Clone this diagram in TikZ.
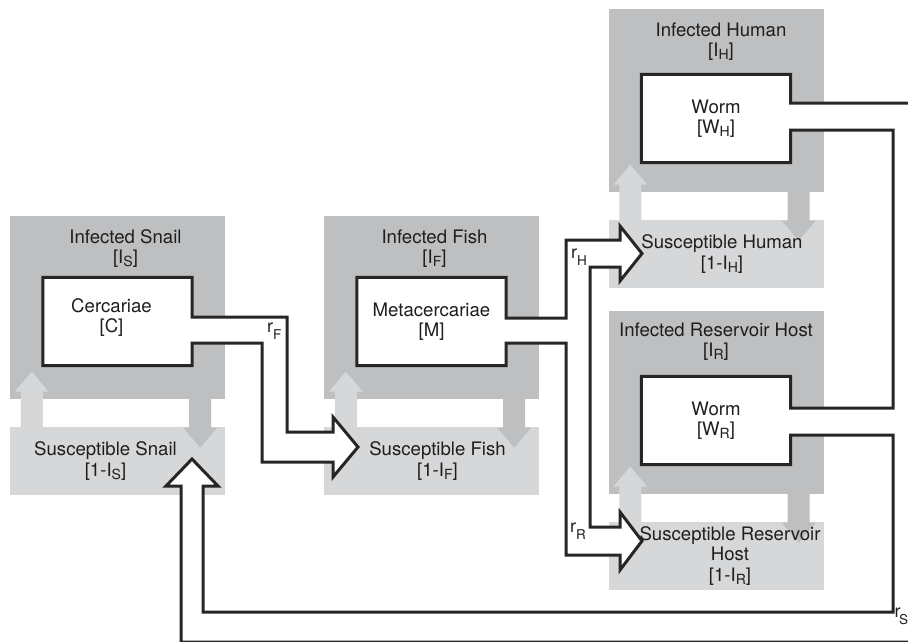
\documentclass[tikz,border=0pt]{standalone}
\usepackage{fontspec}
\setmainfont{TeX Gyre Heros}
\usetikzlibrary{positioning, calc}
\definecolor{infgray}{RGB}{190,191,193}
\definecolor{susgray}{RGB}{214,215,217}
\definecolor{pipeink}{RGB}{38,38,38}
\definecolor{txtink}{RGB}{30,30,30}
\newcommand\boxfont{\fontsize{18.6}{20.5}\selectfont}
\newcommand\ratefont{\fontsize{18}{18}\selectfont}
\newcommand\lowidx[1]{\raisebox{-3pt}{\fontsize{14}{14}\selectfont #1}}
\newcommand\ratelow[1]{\raisebox{-7pt}{\fontsize{13.5}{13.5}\selectfont #1}}
\pgfdeclarelayer{boxes}
\pgfdeclarelayer{pipes}
\pgfsetlayers{boxes,pipes,main}
\tikzset{
  infbox/.style   = {fill=infgray, minimum width=215pt, minimum height=183pt,
                     inner sep=0pt},
  susbox/.style   = {fill=susgray, minimum width=215pt, minimum height=68pt,
                     inner sep=0pt},
  boxtext/.style  = {align=center, font=\boxfont, text=txtink, inner sep=0pt},
  wormbox/.style  = {boxtext, minimum width=149pt, minimum height=88pt},
  pipe/.style     = {draw=pipeink, fill=white, line width=3pt, line join=miter},
  upflow/.style   = {fill=susgray},
  downflow/.style = {fill=infgray},
  ratelbl/.style  = {font=\ratefont, text=txtink, inner sep=0pt,
                     anchor=base west},
}

\begin{document}
\begin{tikzpicture}[x=1pt, y=-1pt]
  \useasboundingbox (0,0) rectangle (908,641);

  % grey compartments
  \begin{pgfonlayer}{boxes}
    \node[infbox] (IS) at (117.5,307) {};
    \node[susbox, below=28pt of IS] (SS) {};
    \node[infbox] (IF) at (431.5,307) {};
    \node[susbox, below=28pt of IF] (SF) {};
    \node[infbox] (IH) at (716,100) {};
    \node[susbox, below=28pt of IH] (SH) {};
    \node[infbox] (IR) at (716,402) {};
    \node[susbox, below=28pt of IR] (SR) {};
    % infection / recovery
    \fill[upflow] ($(IS.south west)+(22,-27)$) -- ++(17,20) -- ++(-6,0) -- ++(0,45)
      -- ++(-22,0) -- ++(0,-45) -- ++(-6,0) -- cycle;
    \fill[downflow] ($(IS.south east)+(-25,49)$) -- ++(17,-20) -- ++(-6,0) -- ++(0,-44)
      -- ++(-22,0) -- ++(0,44) -- ++(-6,0) -- cycle;
    \fill[upflow] ($(IF.south west)+(22,-27)$) -- ++(17,20) -- ++(-6,0) -- ++(0,45)
      -- ++(-22,0) -- ++(0,-45) -- ++(-6,0) -- cycle;
    \fill[downflow] ($(IF.south east)+(-25,49)$) -- ++(17,-20) -- ++(-6,0) -- ++(0,-44)
      -- ++(-22,0) -- ++(0,44) -- ++(-6,0) -- cycle;
    \fill[upflow] ($(IH.south west)+(22,-27)$) -- ++(17,20) -- ++(-6,0) -- ++(0,45)
      -- ++(-22,0) -- ++(0,-45) -- ++(-6,0) -- cycle;
    \fill[downflow] ($(IH.south east)+(-25,49)$) -- ++(17,-20) -- ++(-6,0) -- ++(0,-44)
      -- ++(-22,0) -- ++(0,44) -- ++(-6,0) -- cycle;
    \fill[upflow] ($(IR.south west)+(22,-27)$) -- ++(17,20) -- ++(-6,0) -- ++(0,45)
      -- ++(-22,0) -- ++(0,-45) -- ++(-6,0) -- cycle;
    \fill[downflow] ($(IR.south east)+(-25,49)$) -- ++(17,-20) -- ++(-6,0) -- ++(0,-44)
      -- ++(-22,0) -- ++(0,44) -- ++(-6,0) -- cycle;
  \end{pgfonlayer}

  % texts
  \node[boxtext, below=14pt of IS.north, xshift=8pt] (ISt) {Infected Snail\\{}[I\lowidx{S}]};
  \node[boxtext, xshift=-12pt] (SSt) at (SS) {Susceptible Snail\\{}[1-I\lowidx{S}]};
  \node[boxtext, below=14pt of IF.north, xshift=3pt] (IFt) {Infected Fish\\{}[I\lowidx{F}]};
  \node[boxtext, xshift=6pt] (SFt) at (SF) {Susceptible Fish\\{}[1-I\lowidx{F}]};
  \node[boxtext, below=14pt of IH.north, xshift=5pt] (IHt) {Infected Human\\{}[I\lowidx{H}]};
  \node[boxtext, xshift=6pt] (SHt) at (SH) {Susceptible Human\\{}[1-I\lowidx{H}]};
  \node[boxtext, below=12pt of IR.north] (IRt) {Infected Reservoir Host\\{}[I\lowidx{R}]};
  \node[boxtext, xshift=14pt] (SRt) at (SR) {Susceptible Reservoir\\Host\\{}[1-I\lowidx{R}]};

  \node[wormbox, below=62pt of IS.north] (C) {};
  \node[boxtext, xshift=-6pt, yshift=4pt] (Ct) at (C) {Cercariae\\{}[C]};
  \node[wormbox, below=62pt of IF.north] (M) {Metacercariae\\{}[M]};
  \node[wormbox, below=66pt of IH.north] (WH) {Worm\\{}[W\lowidx{H}]};
  \node[wormbox, below=66pt of IR.north] (WR) {Worm\\{}[W\lowidx{R}]};

  \node[ratelbl] (rF) at (267,332) {r\ratelow{F}};
  \node[ratelbl] (rH) at (571,258) {r\ratelow{H}};
  \node[ratelbl] (rR) at (570,532) {r\ratelow{R}};
  \node[ratelbl] (rS) at (894.5,617) {r\kern-1.5pt\ratelow{S}};

  % parasite flows
  \begin{pgfonlayer}{pipes}
    \draw[pipe] (C.north west) -- (C.north east) -- (C.east |- 0,317) -- (287,317)
      -- (287,432) -- (333,432) -- (333,417) -- (358,447) -- (333,477) -- (333,462)
      -- (262,462) -- (262,343) -- (C.east |- 0,343) -- (C.south east)
      -- (C.south west) -- cycle;
    \draw[pipe] (M.north west) -- (M.north east) -- (M.east |- 0,318) -- (566,318)
      -- (566,240) -- (620,240) -- (620,226) -- (642,253.5) -- (620,281) -- (620,267)
      -- (590,267) -- (590,527) -- (620,527) -- (620,512) -- (642,541) -- (620,570)
      -- (620,555) -- (566,555) -- (566,343) -- (M.east |- 0,343) -- (M.south east)
      -- (M.south west) -- cycle;
    \draw[pipe] (WH.north west) -- (WH.north east) -- (WH.east |- 0,103) -- (925,103)
      -- (925,642) -- (181,642) -- (181,486) -- (166,486) -- (192,459) -- (218,486)
      -- (203,486) -- (203,612) -- (893,612) -- (893,435) -- (WR.east |- 0,435)
      -- (WR.south east) -- (WR.south west) -- (WR.north west) -- (WR.north east)
      -- (WR.east |- 0,408) -- (893,408) -- (893,130) -- (WH.east |- 0,130)
      -- (WH.south east) -- (WH.south west) -- cycle;
  \end{pgfonlayer}
\end{tikzpicture}
\end{document}
